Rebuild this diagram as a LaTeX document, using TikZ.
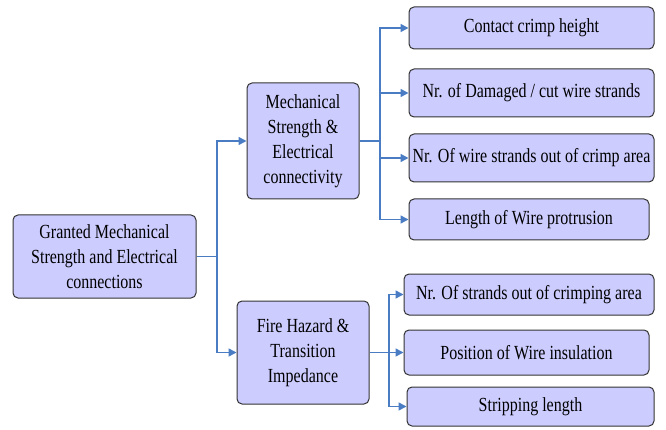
\documentclass[tikz,border=0pt]{standalone}
\usepackage{fontspec}
\setmainfont{Liberation Serif}[FakeStretch=0.8]
\usetikzlibrary{arrows.meta}
\definecolor{boxfill}{HTML}{CCCCFF}
\definecolor{boxline}{HTML}{333333}
\definecolor{linkblue}{HTML}{4A7CC4}
\tikzset{
  card/.style={draw=boxline, line width=1pt, fill=boxfill, rounded corners=5pt,
    align=center, inner sep=0pt, font=\fontsize{20}{25}\selectfont},
  link/.style={draw=linkblue, line width=1.5pt, -{Triangle[length=8pt,width=8pt]}},
  plain/.style={draw=linkblue, line width=1.5pt}
}
\begin{document}
\begin{tikzpicture}[x=1pt,y=-1pt]
\useasboundingbox (0,0) rectangle (666,430);
% root
\node[card, minimum width=183pt, minimum height=83pt] (root) at (104.5,256.5)
  {Granted Mechanical\\Strength and Electrical\\connections};
% second level
\node[card, minimum width=112pt, minimum height=116pt] (mech) at (303,141)
  {Mechanical\\Strength \&\\Electrical\\connectivity};
\node[card, minimum width=132pt, minimum height=103pt] (fire) at (303,352.5)
  {Fire Hazard \&\\Transition\\Impedance};
% leaves under mechanical strength
\node[card, minimum width=245pt, minimum height=42pt] (m1) at (531.5,28) {Contact crimp height};
\node[card, minimum width=245pt, minimum height=48pt] (m2) at (531.5,93) {Nr. of Damaged / cut wire strands};
\node[card, minimum width=245pt, minimum height=48pt] (m3) at (531.5,158) {Nr. Of wire strands out of crimp area};
\node[card, minimum width=240pt, minimum height=41pt] (m4) at (529,219.5) {Length of Wire protrusion};
% leaves under fire hazard
\node[card, minimum width=250pt, minimum height=41pt] (f1) at (529,294.5) {Nr. Of strands out of crimping area};
\node[card, minimum width=245pt, minimum height=45pt] (f2) at (526.5,352.5) {Position of Wire insulation};
\node[card, minimum width=247pt, minimum height=39pt] (f3) at (530.5,406.5) {Stripping length};
% bus coordinates
\coordinate (busR) at (217,0);
\coordinate (busM) at (380,0);
\coordinate (busF) at (389,0);
% connectors
\draw[plain] (root.east) -- (root.east -| busR);
\draw[link] (root.east -| busR) |- (mech.west);
\draw[link] (root.east -| busR) |- (fire.west);
\draw[plain] (mech.east) -- (mech.east -| busM);
\foreach \n in {m1,m2,m3,m4}
  \draw[link] (mech.east -| busM) |- (\n.west);
\draw[plain] (fire.east) -- (fire.east -| busF);
\foreach \n in {f1,f2,f3}
  \draw[link] (fire.east -| busF) |- (\n.west);
\end{tikzpicture}
\end{document}
